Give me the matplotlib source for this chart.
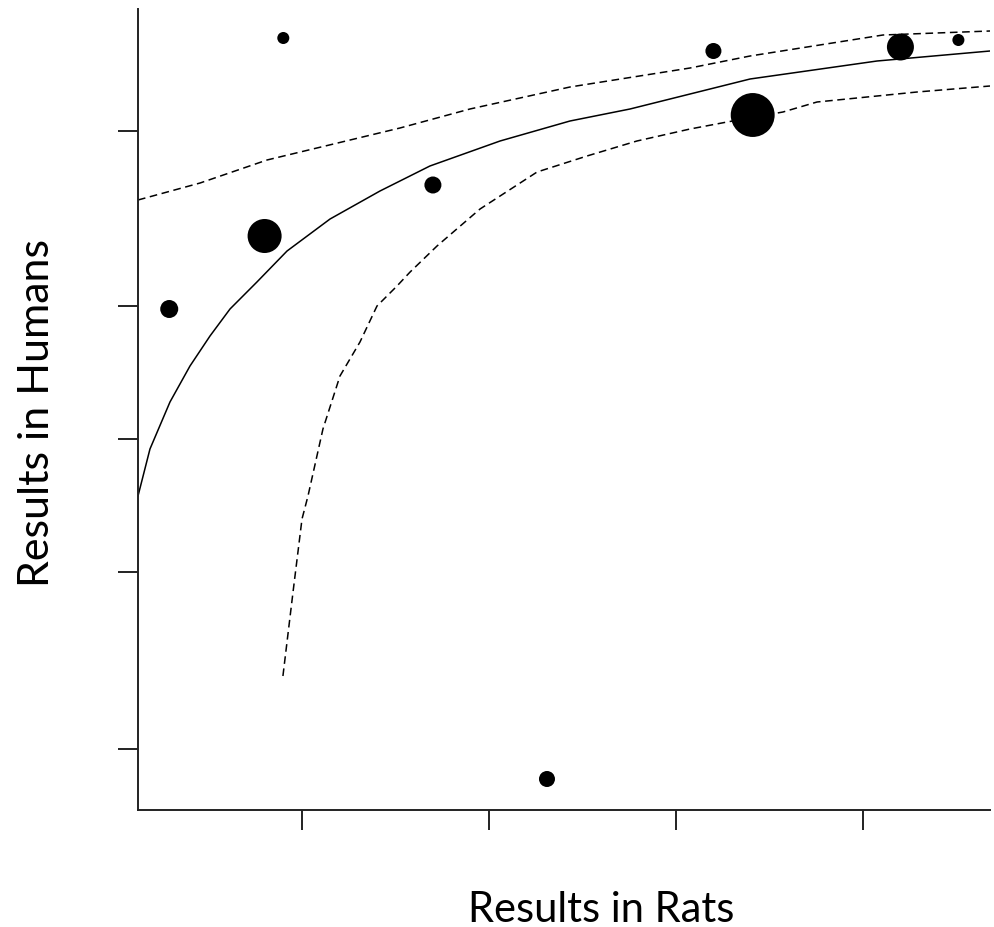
import matplotlib
matplotlib.use('Agg')
import matplotlib.pyplot as plt
import numpy as np

# studies: results in rats (x) vs results in humans (y), weight = marker size
rats = [0.29, 0.80, 0.90, 1.70, 2.31, 3.20, 3.41, 4.20, 4.51]
humans = [5.01, 5.74, 7.72, 6.25, 0.31, 7.59, 6.95, 7.63, 7.70]
weights = [168, 600, 75, 150, 133, 133, 1000, 378, 75]

# fitted curve
fit_x = [0.123, 0.187, 0.294, 0.401, 0.508, 0.615, 0.759, 0.920, 1.150, 1.417,
         1.684, 2.059, 2.433, 2.754, 3.075, 3.396, 4.075, 4.679]
fit_y = [3.14, 3.61, 4.08, 4.44, 4.74, 5.01, 5.28, 5.59, 5.91, 6.19,
         6.44, 6.69, 6.89, 7.01, 7.16, 7.31, 7.49, 7.59]

# upper confidence band
upper_x = [0.123, 0.455, 0.813, 1.524, 1.898, 2.433, 3.075, 3.396, 4.107, 4.679]
upper_y = [6.10, 6.27, 6.50, 6.82, 7.01, 7.23, 7.42, 7.54, 7.75, 7.79]

# lower confidence band
lower_x = [0.898, 0.952, 1.000, 1.032, 1.112, 1.203, 1.310, 1.401, 1.508, 1.578,
           1.722, 1.952, 2.257, 2.524, 2.791, 3.075, 3.273, 3.572, 3.754, 4.289, 4.679]
lower_y = [1.34, 2.18, 2.91, 3.14, 3.81, 4.34, 4.68, 5.04, 5.24, 5.38,
           5.64, 6.01, 6.38, 6.54, 6.69, 6.81, 6.88, 6.98, 7.08, 7.18, 7.24]

x_ticks = [1, 2, 3, 4]
y_ticks = [0.61, 2.38, 3.71, 5.04, 6.79]

W, H = 995, 928
fig = plt.figure(figsize=(W / 100, H / 100), dpi=100)
ax = fig.add_axes([138 / W, (H - 811) / H, (990 - 138) / W, (811 - 10) / H])

ax.plot(fit_x, fit_y, color='black', lw=1.1)
ax.plot(upper_x, upper_y, color='black', lw=1.1, dashes=(5, 3))
ax.plot(lower_x, lower_y, color='black', lw=1.1, dashes=(5, 3))
ax.scatter(rats, humans, s=weights, color='black', zorder=3, linewidths=0)

ax.set_xlim(0.123, 4.679)
ax.set_ylim(0, 8.01)
ax.set_xticks(x_ticks)
ax.set_yticks(y_ticks)
ax.set_xticklabels([])
ax.set_yticklabels([])
ax.tick_params(direction='out', length=14.5, width=1.4, color='#222222')

for s in ['top', 'right']:
    ax.spines[s].set_visible(False)
for s in ['left', 'bottom']:
    ax.spines[s].set_linewidth(1.4)
    ax.spines[s].set_color('#222222')

fig.text(601 / W, 1 - 910 / H, 'Results in Rats', ha='center', va='center',
         fontsize=30, family='Lato')
fig.text(37 / W, 1 - 413 / H, 'Results in Humans', ha='center', va='center',
         fontsize=31, family='Lato', rotation=90)

fig.savefig('out.png', dpi=100)
